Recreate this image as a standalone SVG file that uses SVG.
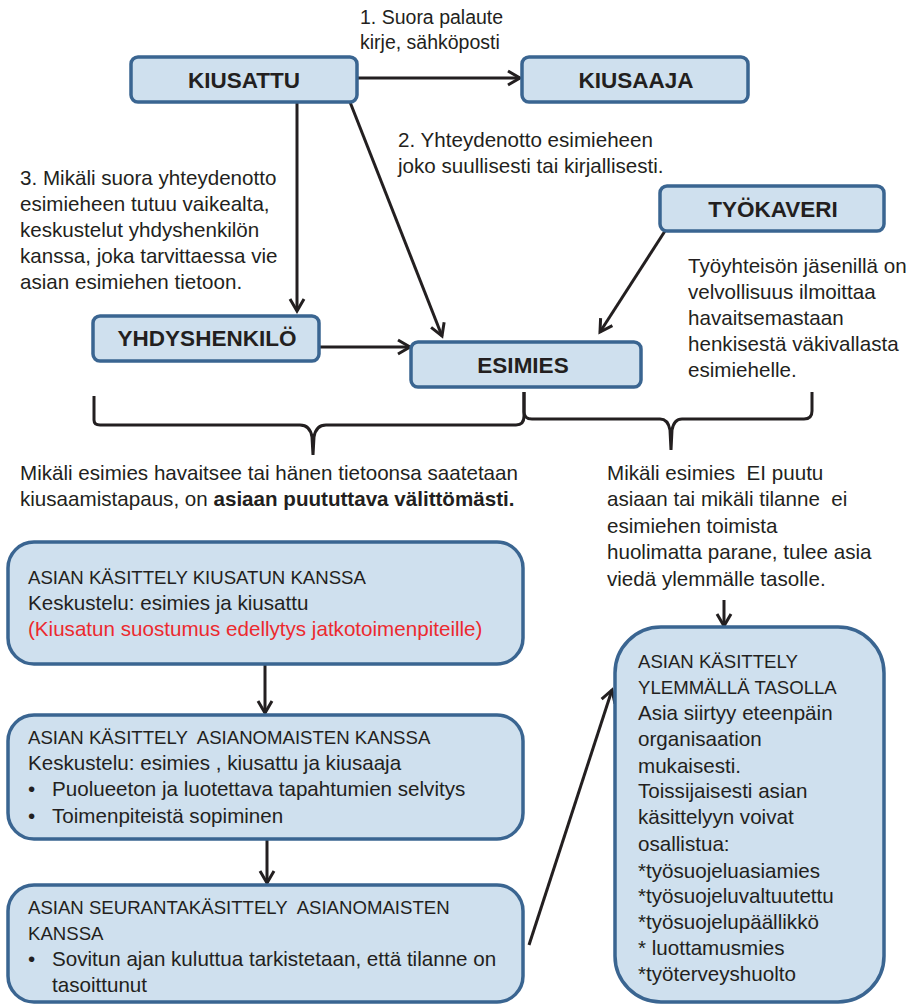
<svg xmlns="http://www.w3.org/2000/svg" width="910" height="1005" viewBox="0 0 910 1005">
<defs>
<style>
.box{fill:#cfe0ee;stroke:#3a6591;stroke-width:3.5}
.lbl{font-family:"Liberation Sans",Arial,sans-serif;font-weight:bold;font-size:22.5px;fill:#231f20;text-anchor:middle}
.t{font-family:"Liberation Sans",Arial,sans-serif;font-size:20.6px;fill:#231f20;white-space:pre}
.c{font-size:18.6px}
.s{font-size:19.5px}
.red{fill:#ec2a2f}
.ln{fill:none;stroke:#231f20;stroke-width:3}
.br{fill:none;stroke:#231f20;stroke-width:3}
</style>
<marker id="ah" markerUnits="userSpaceOnUse" markerWidth="20" markerHeight="20" refX="13" refY="8" orient="auto" viewBox="0 0 20 16">
<path d="M1,1 L13,8 L1,15" fill="none" stroke="#231f20" stroke-width="3"/>
</marker>
</defs>
<rect width="910" height="1005" fill="#ffffff"/>

<g id="connectors">
<line class="ln" x1="357" y1="78" x2="520" y2="78" marker-end="url(#ah)"/>
<line class="ln" x1="297" y1="102" x2="297" y2="311" marker-end="url(#ah)"/>
<line class="ln" x1="350" y1="102" x2="442" y2="336" marker-end="url(#ah)"/>
<line class="ln" x1="665" y1="231" x2="600" y2="332" marker-end="url(#ah)"/>
<line class="ln" x1="320" y1="347" x2="410" y2="347" marker-end="url(#ah)"/>
<line class="ln" x1="724" y1="600" x2="724" y2="626" marker-end="url(#ah)"/>
<line class="ln" x1="265" y1="664" x2="265" y2="713" marker-end="url(#ah)"/>
<line class="ln" x1="267" y1="839" x2="267" y2="883" marker-end="url(#ah)"/>
<line class="ln" x1="529" y1="945" x2="612" y2="690" marker-end="url(#ah)"/>
<path class="br" d="M94,396 L94,420 Q94,425 100,425 L300,425 Q310,425 312,437 L313,455 M313,455 L314,437 Q316,425 326,425 L516,425 Q524,425 524,416 L524,392"/>
<path class="br" d="M524,392 L524,412 Q524,419 532,419 L660,419 Q668,419 670,430 L671,450 M671,450 L672,430 Q674,419 682,419 L804,419 Q812,419 812,411 L812,392"/>
</g>

<g id="kiusattu">
<rect class="box" x="131" y="57" width="226" height="45" rx="7"/>
<text class="lbl" x="244" y="88">KIUSATTU</text>
</g>
<g id="kiusaaja">
<rect class="box" x="522" y="57" width="226" height="45" rx="7"/>
<text class="lbl" x="636" y="88">KIUSAAJA</text>
</g>
<g id="tyokaveri">
<rect class="box" x="660" y="186" width="224" height="45" rx="7"/>
<text class="lbl" x="773" y="217">TYÖKAVERI</text>
</g>
<g id="yhdyshenkilo">
<rect class="box" x="93" y="316" width="226" height="45" rx="7"/>
<text class="lbl" x="207" y="346">YHDYSHENKILÖ</text>
</g>
<g id="esimies">
<rect class="box" x="411" y="342" width="230" height="45" rx="7"/>
<text class="lbl" x="523" y="373">ESIMIES</text>
</g>

<g id="label1">
<text class="t s" x="360" y="24">1. Suora palaute</text>
<text class="t s" x="360" y="49">kirje, sähköposti</text>
</g>
<g id="label2">
<text class="t" x="398" y="147">2. Yhteydenotto esimieheen</text>
<text class="t" x="398" y="173">joko suullisesti tai kirjallisesti.</text>
</g>
<g id="label3">
<text class="t" x="20" y="185">3. Mikäli suora yhteydenotto</text>
<text class="t" x="20" y="211">esimieheen tutuu vaikealta,</text>
<text class="t" x="20" y="237">keskustelut yhdyshenkilön</text>
<text class="t" x="20" y="263">kanssa, joka tarvittaessa vie</text>
<text class="t" x="20" y="289">asian esimiehen tietoon.</text>
</g>
<g id="label4">
<text class="t" x="688" y="273">Työyhteisön jäsenillä on</text>
<text class="t" x="688" y="299">velvollisuus ilmoittaa</text>
<text class="t" x="688" y="325">havaitsemastaan</text>
<text class="t" x="688" y="351">henkisestä väkivallasta</text>
<text class="t" x="688" y="377">esimiehelle.</text>
</g>
<g id="label5">
<text class="t" x="20" y="480">Mikäli esimies havaitsee tai hänen tietoonsa saatetaan</text>
<text class="t" x="20" y="506">kiusaamistapaus, on <tspan font-weight="bold">asiaan puututtava välittömästi.</tspan></text>
</g>
<g id="label6">
<text class="t" x="607" y="480">Mikäli esimies  EI puutu</text>
<text class="t" x="607" y="506">asiaan tai mikäli tilanne  ei</text>
<text class="t" x="607" y="533">esimiehen toimista</text>
<text class="t" x="607" y="559">huolimatta parane, tulee asia</text>
<text class="t" x="607" y="586">viedä ylemmälle tasolle.</text>
</g>

<g id="kasittely1">
<rect class="box" x="8" y="542" width="515" height="122" rx="26"/>
<text class="t c" x="28" y="584">ASIAN KÄSITTELY KIUSATUN KANSSA</text>
<text class="t" x="28" y="610">Keskustelu: esimies ja kiusattu</text>
<text class="t red" x="28" y="636">(Kiusatun suostumus edellytys jatkotoimenpiteille)</text>
</g>
<g id="kasittely2">
<rect class="box" x="8" y="715" width="515" height="124" rx="26"/>
<text class="t c" x="28" y="744">ASIAN KÄSITTELY  ASIANOMAISTEN KANSSA</text>
<text class="t" x="28" y="770">Keskustelu: esimies , kiusattu ja kiusaaja</text>
<text class="t" x="28" y="796">•</text>
<text class="t" x="52" y="796">Puolueeton ja luotettava tapahtumien selvitys</text>
<text class="t" x="28" y="823">•</text>
<text class="t" x="52" y="823">Toimenpiteistä sopiminen</text>
</g>
<g id="seuranta">
<rect class="box" x="8" y="885" width="515" height="117" rx="26"/>
<text class="t c" x="28" y="914">ASIAN SEURANTAKÄSITTELY  ASIANOMAISTEN</text>
<text class="t c" x="28" y="940">KANSSA</text>
<text class="t" x="28" y="966">•</text>
<text class="t" x="52" y="966">Sovitun ajan kuluttua tarkistetaan, että tilanne on</text>
<text class="t" x="52" y="992">tasoittunut</text>
</g>
<g id="ylempi">
<rect class="box" x="615" y="627" width="269" height="375" rx="46"/>
<text class="t c" x="638" y="668">ASIAN KÄSITTELY</text>
<text class="t c" x="638" y="694">YLEMMÄLLÄ TASOLLA</text>
<text class="t" x="638" y="720">Asia siirtyy eteenpäin</text>
<text class="t" x="638" y="746">organisaation</text>
<text class="t" x="638" y="773">mukaisesti.</text>
<text class="t" x="638" y="798">Toissijaisesti asian</text>
<text class="t" x="638" y="824">käsittelyyn voivat</text>
<text class="t" x="638" y="851">osallistua:</text>
<text class="t" x="638" y="878">*työsuojeluasiamies</text>
<text class="t" x="638" y="903">*työsuojeluvaltuutettu</text>
<text class="t" x="638" y="929">*työsuojelupäällikkö</text>
<text class="t" x="638" y="955">* luottamusmies</text>
<text class="t" x="638" y="981">*työterveyshuolto</text>
</g>
</svg>
